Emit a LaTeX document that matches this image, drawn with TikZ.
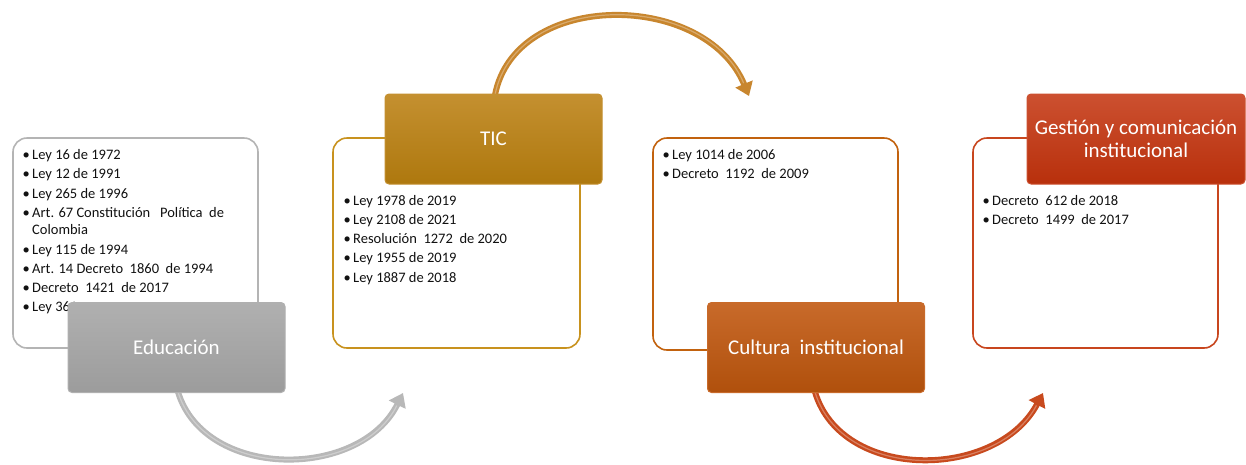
\documentclass[tikz,border=0pt]{standalone}
\usepackage{fontspec}
\setmainfont{Carlito}
\usetikzlibrary{arrows.meta}
\definecolor{grayBorder}{HTML}{B4B4B4}
\definecolor{grayLab}{HTML}{9C9C9C}
\definecolor{grayLabTop}{HTML}{B0B0B0}
\definecolor{grayArrow}{HTML}{B8B8B8}
\definecolor{goldBorder}{HTML}{C8921E}
\definecolor{goldLab}{HTML}{AE780E}
\definecolor{goldLabTop}{HTML}{C49030}
\definecolor{goldArrow}{HTML}{C8862E}
\definecolor{orBorder}{HTML}{C2620E}
\definecolor{orLab}{HTML}{B0500C}
\definecolor{orLabTop}{HTML}{C86A2A}
\definecolor{redBorder}{HTML}{C8461E}
\definecolor{redLab}{HTML}{B8300C}
\definecolor{redLabTop}{HTML}{CC5030}
\definecolor{redArrow}{HTML}{C84A1E}
\definecolor{txt}{HTML}{111111}
\tikzset{
  cbox/.style={draw, line width=1.6pt, fill=white, rounded corners=14pt, inner sep=0pt},
  lab/.style={rounded corners=4pt, inner sep=0pt, minimum width=217pt, minimum height=90pt,
              text=white, font=\fontsize{21}{23.5}\selectfont, align=center},
  lst/.style={inner sep=0pt, anchor=base west, text=txt, font=\fontsize{14.5}{17.3}\selectfont},
  arr/.style={line width=6pt, -{Triangle[width=18pt,length=13pt]}},
  hl/.style={line width=1.2pt, white, opacity=0.3, shorten >=14pt}
}
\begin{document}
\begin{tikzpicture}[x=1pt,y=-1pt]
\useasboundingbox[fill=white] (0,0) rectangle (1246,464);

% content boxes
\node[cbox, draw=grayBorder, minimum width=245pt, minimum height=210pt] (eduBox) at (135.5,243) {};
\node[cbox, draw=goldBorder, minimum width=247pt, minimum height=210pt] (ticBox) at (456.5,243) {};
\node[cbox, draw=orBorder, minimum width=245pt, minimum height=212pt] (culBox) at (775.5,244) {};
\node[cbox, draw=redBorder, minimum width=245pt, minimum height=210pt] (gesBox) at (1095.5,243) {};

% lists
\node[lst] (eduList) at (22.5,159.5) {\begin{tabular}[t]{@{}p{9.5pt}@{}l@{}}
\textbullet & Ley 16 de 1972\\[2pt]
\textbullet & Ley 12 de 1991\\[2pt]
\textbullet & Ley 265 de 1996\\[2pt]
\textbullet & Art. 67 Constitución\ \ \ Política\ \ de\\
 & Colombia\\[2pt]
\textbullet & Ley 115 de 1994\\[2pt]
\textbullet & Art. 14 Decreto\ \ 1860\ \ de 1994\\[2pt]
\textbullet & Decreto\ \ 1421\ \ de 2017\\[2pt]
\textbullet & Ley 361
\end{tabular}};
\node[lst] (ticList) at (343.5,205) {\begin{tabular}[t]{@{}p{9.5pt}@{}l@{}}
\textbullet & Ley 1978 de 2019\\[2pt]
\textbullet & Ley 2108 de 2021\\[2pt]
\textbullet & Resolución\ \ 1272\ \ de 2020\\[2pt]
\textbullet & Ley 1955 de 2019\\[2pt]
\textbullet & Ley 1887 de 2018
\end{tabular}};
\node[lst] (culList) at (662.5,159.5) {\begin{tabular}[t]{@{}p{9.5pt}@{}l@{}}
\textbullet & Ley 1014 de 2006\\[2pt]
\textbullet & Decreto\ \ 1192\ \ de 2009
\end{tabular}};
\node[lst] (gesList) at (982.5,205) {\begin{tabular}[t]{@{}p{9.5pt}@{}l@{}}
\textbullet & Decreto\ \ 612 de 2018\\[2pt]
\textbullet & Decreto\ \ 1499\ \ de 2017
\end{tabular}};

% connector ends
\coordinate (eduS) at (178,392);
\coordinate (ticN) at (495,95);
\coordinate (culS) at (815,392);
\coordinate (a1end) at (403,393);
\coordinate (a2end) at (749,96);
\coordinate (a3end) at (1043,393);

% arrows
\draw[arr, grayArrow] (eduS) .. controls (205,480) and (360,480) .. (a1end);
\draw[hl] (eduS) .. controls (205,480) and (360,480) .. (a1end);
\draw[arr, goldArrow] (ticN) .. controls (515,-10) and (705,-10) .. (a2end);
\draw[hl] (ticN) .. controls (515,-10) and (705,-10) .. (a2end);
\draw[arr, redArrow] (culS) .. controls (842,482) and (997,480) .. (a3end);
\draw[hl] (culS) .. controls (842,482) and (997,480) .. (a3end);

% labels
\node[lab, top color=grayLabTop, bottom color=grayLab, draw=grayLabTop, line width=1pt] (edu) at (176.5,347.5) {Educación};
\node[lab, top color=goldLabTop, bottom color=goldLab, draw=goldLabTop, line width=1pt] (tic) at (493.5,139) {TIC};
\node[lab, top color=orLabTop, bottom color=orLab, draw=orLabTop, line width=1pt] (cul) at (816,347.5) {Cultura\ \ institucional};
\node[lab, top color=redLabTop, bottom color=redLab, draw=redLabTop, line width=1pt, minimum width=218pt] (ges) at (1136,139) {Gestión y comunicación\\institucional};
\end{tikzpicture}
\end{document}
